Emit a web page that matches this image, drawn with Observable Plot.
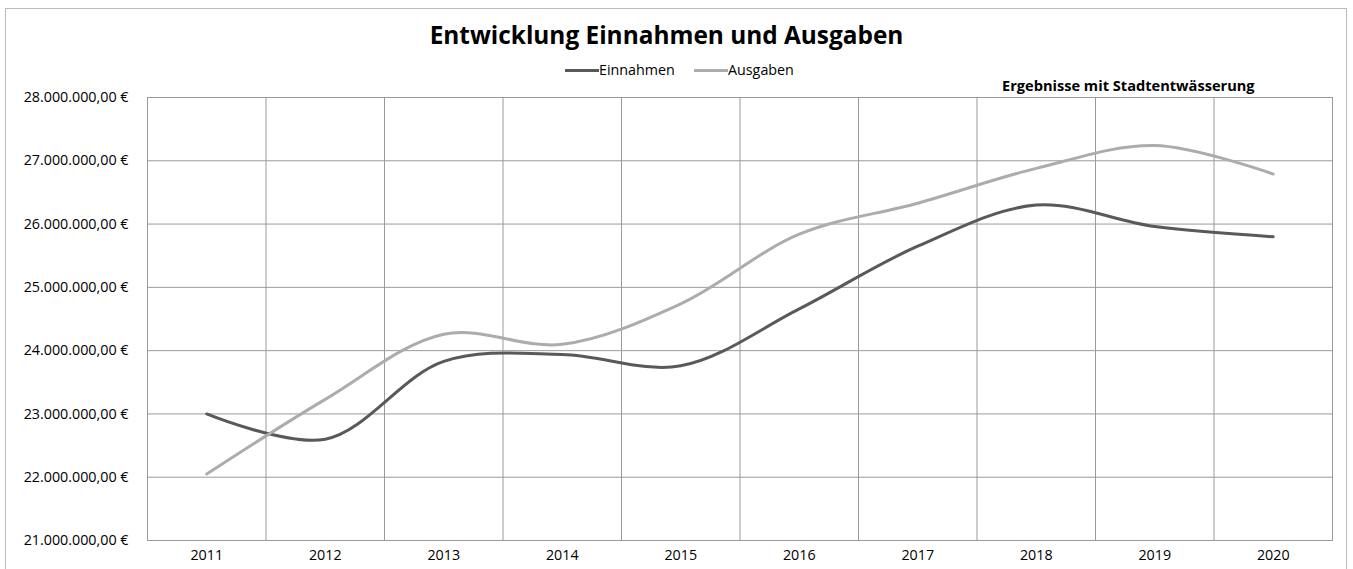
<!DOCTYPE html>
<html><head><meta charset="utf-8">
<script src="https://cdn.jsdelivr.net/npm/d3@7"></script>
<script src="https://cdn.jsdelivr.net/npm/@observablehq/plot@0.6"></script>
<style>
body{margin:0;background:#fff;font-family:"Open Sans",sans-serif;color:#000;}
#wrap{position:relative;width:1353px;height:569px;overflow:hidden;background:#fff;}
#border{position:absolute;left:5px;top:8px;width:1342px;height:600px;border:1px solid #bbb;box-sizing:border-box;}
#title{position:absolute;left:0;width:1333px;top:18px;text-align:center;font-weight:bold;font-size:24.4px;line-height:34px;}
#legend{position:absolute;top:60px;left:0;width:1353px;font-size:14.3px;line-height:20px;}
.lg{position:absolute;display:flex;align-items:center;}
.sw{display:inline-block;width:34px;height:3px;margin-right:0px;}
#note{position:absolute;left:1002px;top:75px;font-weight:bold;font-size:14.6px;line-height:20px;}
#chart{position:absolute;left:0;top:0;}
</style></head>
<body>
<div id="wrap">
  <div id="border"></div>
  <div id="chart"></div>
  <div id="title">Entwicklung Einnahmen und Ausgaben</div>
  <div id="legend">
    <div class="lg" style="left:565px"><span class="sw" style="background:#595959"></span>Einnahmen</div>
    <div class="lg" style="left:694px"><span class="sw" style="background:#acacac"></span>Ausgaben</div>
  </div>
  <div id="note">Ergebnisse mit Stadtentwässerung</div>
</div>
<script>
const years = [2011, 2012, 2013, 2014, 2015, 2016, 2017, 2018, 2019, 2020];
const einnahmen = [23000000, 22600000, 23830000, 23940000, 23760000, 24660000, 25650000, 26300000, 25960000, 25800000];
const ausgaben = [22050000, 23230000, 24260000, 24100000, 24740000, 25840000, 26330000, 26880000, 27240000, 26790000];
const seriesNames = ["Einnahmen", "Ausgaben"];
const seriesColors = ["#595959", "#acacac"];
const yTicks = [21000000, 22000000, 23000000, 24000000, 25000000, 26000000, 27000000, 28000000];

const data = [];
years.forEach((y, i) => {
  data.push({year: y, value: einnahmen[i], series: seriesNames[0]});
  data.push({year: y, value: ausgaben[i], series: seriesNames[1]});
});
const boundaries = years.slice(0, -1).map(y => y + 0.5);

const loc = d3.formatLocale({decimal: ",", thousands: ".", grouping: [3], currency: ["", " €"]});
const fmt = loc.format(",.2f");

const chart = Plot.plot({
  width: 1353,
  height: 569,
  marginTop: 97,
  marginBottom: 29,
  marginLeft: 147,
  marginRight: 21,
  style: {fontFamily: "'Open Sans', sans-serif", fontSize: "14px", color: "#000", background: "transparent"},
  x: {domain: [2010.5, 2020.5]},
  y: {domain: [21000000, 28000000]},
  color: {domain: seriesNames, range: seriesColors},
  marks: [
    Plot.gridY(yTicks, {stroke: "#9a9a9a", strokeOpacity: 1, strokeWidth: 1}),
    Plot.ruleX(boundaries, {stroke: "#9a9a9a", strokeWidth: 1}),
    Plot.frame({stroke: "#9a9a9a", strokeWidth: 1}),
    Plot.axisY(yTicks, {tickSize: 0, tickPadding: 19, tickFormat: d => fmt(d) + " €", fontSize: 14.3, label: null}),
    Plot.axisX(years, {tickSize: 0, tickPadding: 9, tickFormat: d => String(d), fontSize: 14.3, label: null}),
    Plot.line(data, {x: "year", y: "value", z: "series", stroke: "series", strokeWidth: 3, curve: "catmull-rom"})
  ]
});
document.getElementById("chart").appendChild(chart);
</script>
</body></html>
